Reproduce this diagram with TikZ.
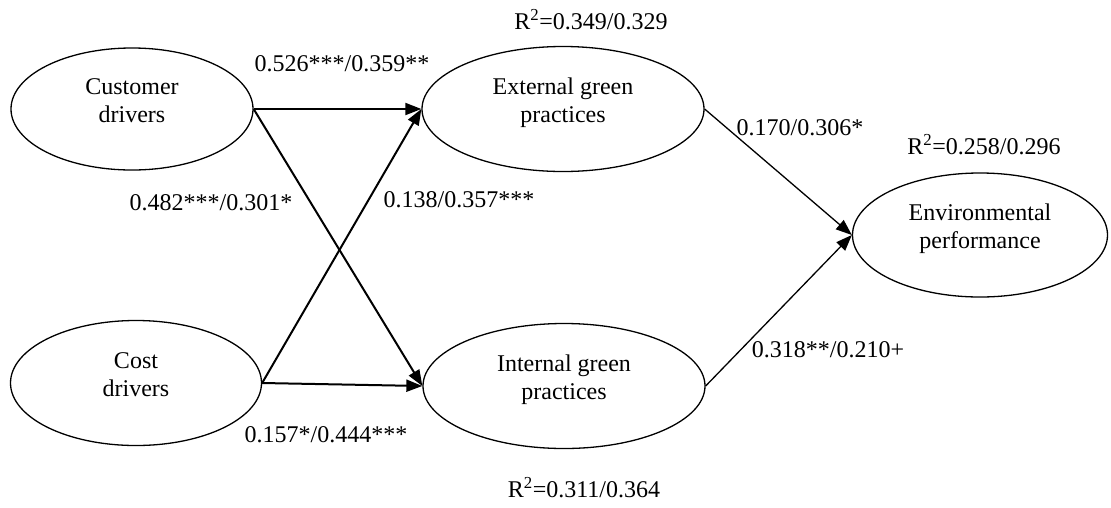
\documentclass[tikz,border=0pt]{standalone}
\usepackage{fontspec}
\setmainfont{Liberation Serif}
\usetikzlibrary{positioning,shapes.geometric,arrows.meta}

\begin{document}
\begin{tikzpicture}[x=1pt,y=-1pt,>={Triangle[length=16pt,width=12pt]},line width=1.3pt]

\tikzstyle{construct}=[ellipse,draw,inner sep=0pt,align=center,text depth=17pt,font=\fontsize{24}{28}\selectfont]
\tikzstyle{coef}=[inner sep=0pt,font=\fontsize{24}{28}\selectfont]

\useasboundingbox (0,0) rectangle (1111,507);

\node[construct,minimum width=242,minimum height=122] (cust) at (132,109) {Customer\\drivers};
\node[construct,minimum width=251,minimum height=125] (cost) at (136,383) {Cost\\drivers};
\node[construct,minimum width=282,minimum height=125] (ext) at (563,109) {External green\\practices};
\node[construct,minimum width=282,minimum height=125] (int) at (564,386) {Internal green\\practices};
\node[construct,minimum width=255,minimum height=124] (env) at (980,235) {Environmental\\performance};

\foreach \a/\b in {cust/ext,cust/int,cost/ext,cost/int}
    \draw[->,line width=2pt] (\a.east) -- (\b.west);

\foreach \a in {ext,int}
    \draw[->] (\a.east) -- (env.west);

\node[coef] (c1) at (342,64) {0.526***/0.359**};
\node[coef] (c2) at (211,203) {0.482***/0.301*};
\node[coef] (c3) at (459,200) {0.138/0.357***};
\node[coef] (c4) at (326,435) {0.157*/0.444***};
\node[coef] (c5) at (800,128) {0.170/0.306*};
\node[coef] (c6) at (828,350) {0.318**/0.210+};
\node[coef] (r1) at (591,20) {R\textsuperscript{2}=0.349/0.329};
\node[coef] (r2) at (984,145) {R\textsuperscript{2}=0.258/0.296};
\node[coef] (r3) at (584,488) {R\textsuperscript{2}=0.311/0.364};

\end{tikzpicture}
\end{document}
